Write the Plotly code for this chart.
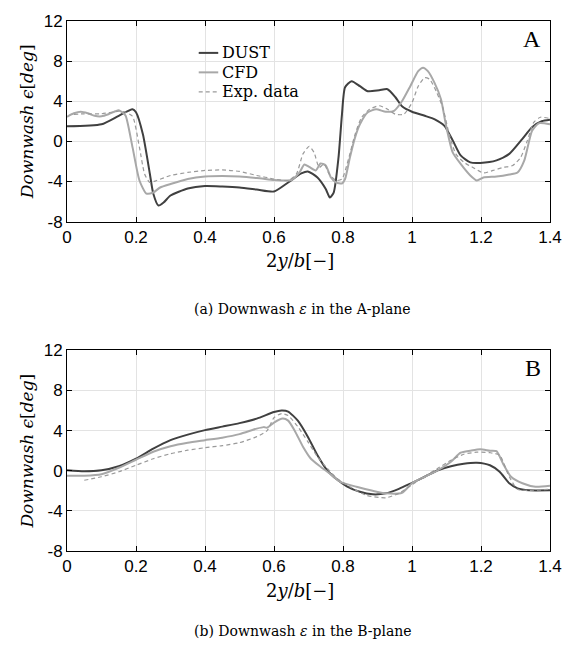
import plotly.graph_objects as go
from plotly.subplots import make_subplots

# ---------------- Data: A-plane ----------------
a_dust_x = [0, 0.1, 0.15, 0.19, 0.2, 0.22, 0.24, 0.25, 0.265, 0.28, 0.3, 0.35, 0.4, 0.45, 0.5, 0.55, 0.6,
            0.641, 0.679, 0.698, 0.726, 0.75, 0.762, 0.773, 0.787, 0.797, 0.806, 0.825, 0.849, 0.872,
            0.905, 0.929, 0.952, 0.971, 1.0, 1.037, 1.066, 1.094, 1.118, 1.141, 1.169, 1.198, 1.245,
            1.282, 1.32, 1.348, 1.376, 1.4]
a_dust_y = [1.5, 1.7, 2.55, 3.2, 2.9, 0.7, -3.2, -5.2, -6.4, -6.1, -5.4, -4.7, -4.45, -4.5, -4.6, -4.8, -5.0,
            -4.1, -3.2, -3.0, -3.6, -4.75, -5.6, -5.1, -1.6, 2.7, 5.4, 6.0, 5.5, 5.0,
            5.1, 5.2, 4.4, 3.5, 2.95, 2.55, 2.2, 1.55, 0.1, -1.4, -2.1, -2.15, -1.9,
            -1.25, 0.25, 1.4, 2.0, 2.15]

a_cfd_x = [0, 0.02, 0.04, 0.06, 0.08, 0.1, 0.12, 0.14, 0.15, 0.16, 0.17, 0.19, 0.21, 0.23, 0.25, 0.27, 0.3,
           0.35, 0.4, 0.45, 0.5, 0.55, 0.6, 0.622, 0.651, 0.674, 0.688, 0.702, 0.721, 0.735, 0.75, 0.765,
           0.78, 0.797, 0.806, 0.82, 0.835, 0.849, 0.872, 0.896, 0.924, 0.948, 0.971, 0.995, 1.018, 1.032,
           1.046, 1.065, 1.084, 1.098, 1.118, 1.141, 1.169, 1.188, 1.207, 1.245, 1.282, 1.306, 1.325,
           1.348, 1.367, 1.4]
a_cfd_y = [2.45, 2.8, 2.95, 2.8, 2.55, 2.5, 2.7, 3.0, 3.1, 2.9, 2.55, -0.6, -3.9, -5.2, -5.1, -4.6, -4.25,
           -3.75, -3.5, -3.45, -3.5, -3.65, -3.85, -3.9, -3.85, -3.1, -2.3, -2.55, -2.9, -2.2, -2.4, -3.6,
           -4.1, -4.2, -3.75, -1.6, 0.4, 1.7, 2.9, 3.2, 2.95, 3.05, 4.0, 5.5, 7.0, 7.35,
           7.0, 5.85, 4.2, 1.7, -1.1, -2.25, -3.4, -3.9, -3.6, -3.5, -3.3, -3.1, -1.95,
           1.05, 1.8, 1.7]

a_exp_x = [0.02, 0.05, 0.1, 0.15, 0.17, 0.19, 0.21, 0.225, 0.24, 0.26, 0.3, 0.35, 0.4, 0.45, 0.5, 0.55, 0.6,
           0.641, 0.665, 0.684, 0.702, 0.716, 0.731, 0.745, 0.76, 0.78, 0.797, 0.816, 0.835, 0.854, 0.877,
           0.905, 0.929, 0.952, 0.976, 1.0, 1.018, 1.037, 1.051, 1.07, 1.089, 1.108, 1.127, 1.151, 1.179,
           1.207, 1.235, 1.264, 1.292, 1.315, 1.334, 1.353, 1.372, 1.396]
a_exp_y = [2.7, 2.75, 2.75, 3.0, 2.9, 2.5, -0.6, -3.25, -4.1, -3.9, -3.4, -3.1, -2.9, -2.85, -3.0, -3.4, -3.75,
           -3.9, -3.25, -1.25, -0.5, -1.1, -2.6, -2.25, -3.25, -3.9, -3.75, -1.75, 0.7, 2.4, 3.2,
           3.55, 3.2, 2.7, 2.7, 3.85, 5.5, 6.35, 6.2, 5.0, 3.4, 0.7, -1.25, -2.1, -2.65,
           -3.15, -2.9, -2.6, -2.4, -1.6, 0.05, 1.9, 2.4, 2.3]

# ---------------- Data: B-plane ----------------
b_dust_x = [0, 0.05, 0.1, 0.15, 0.2, 0.25, 0.3, 0.35, 0.4, 0.45, 0.5, 0.55, 0.6, 0.622, 0.641, 0.669, 0.698,
            0.726, 0.754, 0.782, 0.811, 0.849, 0.886, 0.924, 0.962, 1.0, 1.037, 1.075, 1.113, 1.15, 1.188,
            1.226, 1.254, 1.282, 1.306, 1.339, 1.4]
b_dust_y = [0.05, -0.05, 0.05, 0.45, 1.2, 2.2, 3.05, 3.6, 4.05, 4.4, 4.75, 5.2, 5.85, 6.0, 5.9, 5.0, 3.4,
            1.55, 0.05, -0.85, -1.55, -2.1, -2.35, -2.25, -1.8, -1.2, -0.6, 0.05, 0.45, 0.7, 0.8,
            0.55, -0.1, -1.25, -1.75, -1.95, -1.95]

b_cfd_x = [0, 0.05, 0.1, 0.15, 0.2, 0.25, 0.3, 0.35, 0.4, 0.45, 0.5, 0.55, 0.57, 0.58, 0.6, 0.625, 0.641, 0.66,
           0.684, 0.707, 0.735, 0.764, 0.792, 0.839, 0.886, 0.924, 0.971, 1.0, 1.037, 1.075, 1.113, 1.141,
           1.169, 1.198, 1.226, 1.245, 1.264, 1.287, 1.32, 1.358, 1.4]
b_cfd_y = [-0.5, -0.5, -0.35, 0.3, 1.1, 1.9, 2.45, 2.8, 3.05, 3.3, 3.65, 4.2, 4.35, 4.3, 4.8, 5.2, 5.0, 4.0,
           2.4, 1.2, 0.4, -0.35, -1.1, -1.6, -2.0, -2.25, -2.2, -1.25, -0.6, 0.05, 0.9, 1.8,
           2.0, 2.15, 2.0, 1.95, 0.7, -0.6, -1.25, -1.6, -1.5]

b_exp_x = [0.05, 0.1, 0.15, 0.2, 0.25, 0.3, 0.35, 0.4, 0.45, 0.5, 0.55, 0.58, 0.6, 0.622, 0.641, 0.669, 0.698,
           0.726, 0.754, 0.782, 0.82, 0.868, 0.924, 0.962, 1.0, 1.037, 1.075, 1.113, 1.15, 1.188, 1.226,
           1.254, 1.282, 1.306, 1.339, 1.4]
b_exp_y = [-0.95, -0.6, -0.1, 0.55, 1.2, 1.7, 2.05, 2.3, 2.5, 2.8, 3.4, 4.0, 5.3, 5.7, 5.5, 4.4, 2.9,
           1.4, 0.25, -0.75, -1.6, -2.45, -2.7, -2.25, -1.4, -0.55, 0.25, 1.05, 1.65, 1.85, 1.8,
           1.55, -0.6, -1.85, -1.95, -1.85]

x_ticks = [0, 0.2, 0.4, 0.6, 0.8, 1.0, 1.2, 1.4]
x_tick_labels = ["0", "0.2", "0.4", "0.6", "0.8", "1", "1.2", "1.4"]
y_ticks = [-8, -4, 0, 4, 8, 12]
y_tick_labels = ["-8", "-4", "0", "4", "8", "12"]
series_names = ["DUST", "CFD", "Exp. data"]
panel_labels = ["A", "B"]
captions = ["(a) Downwash <i>ε</i> in the A-plane", "(b) Downwash <i>ε</i> in the B-plane"]

DARK = "#404040"
LIGHT = "#a8a8a8"
EXP = "#9a9a9a"
SERIF = "DejaVu Serif, Liberation Serif, serif"
SANS = "Liberation Sans, Arial, sans-serif"

styles = [
    dict(color=DARK, width=2, dash="solid"),
    dict(color=LIGHT, width=2, dash="solid"),
    dict(color=EXP, width=1.2, dash="4px,3px"),
]

fig = make_subplots(rows=2, cols=1, vertical_spacing=0.2430)

panels = [
    ((a_dust_x, a_dust_y), (a_cfd_x, a_cfd_y), (a_exp_x, a_exp_y)),
    ((b_dust_x, b_dust_y), (b_cfd_x, b_cfd_y), (b_exp_x, b_exp_y)),
]
for i, series in enumerate(panels):
    for (xs, ys), name, st in zip(series, series_names, styles):
        fig.add_trace(go.Scatter(x=xs, y=ys, mode="lines", name=name, showlegend=False,
                                 line=dict(shape="spline", smoothing=0.6, **st)), row=i + 1, col=1)

axis_common = dict(showline=True, linecolor="black", linewidth=1, mirror="ticks", ticks="inside",
                   ticklen=5, tickcolor="black", showgrid=True, gridcolor="#e3e3e3", gridwidth=1,
                   zeroline=False, tickfont=dict(family=SANS, size=17, color="black"))

for row in (1, 2):
    fig.update_xaxes(range=[0, 1.4], tickvals=x_ticks, ticktext=x_tick_labels,
                     row=row, col=1, **axis_common)
    fig.update_yaxes(range=[-8, 12], tickvals=y_ticks, ticktext=y_tick_labels,
                     title=dict(text="<i>Downwash ϵ</i>[<i>deg</i>]",
                                font=dict(family=SERIF, size=17, color="black"), standoff=5),
                     row=row, col=1, **axis_common)

fig.update_yaxes(domain=[0.6215, 1.0], row=1, col=1)
fig.update_yaxes(domain=[0.0, 0.3785], row=2, col=1)

# x-axis titles
for xr, yr in (("x domain", "y domain"), ("x2 domain", "y2 domain")):
    fig.add_annotation(text="2<i>y</i>/<i>b</i>[−]", x=0.483, y=-0.195, xref=xr, yref=yr,
                       xanchor="center", yanchor="middle", showarrow=False,
                       font=dict(family=SERIF, size=18, color="black"))

# panel letters
for i, lab in enumerate(panel_labels):
    fig.add_annotation(text=lab, x=1.381, y=10.2, xref=f"x{'' if i == 0 else 2}", yref=f"y{'' if i == 0 else 2}",
                       xanchor="right", yanchor="middle", showarrow=False,
                       font=dict(family="Liberation Serif, serif", size=24, color="black"))

# captions
for cap, yy in zip(captions, [0.4557, -0.1507]):
    fig.add_annotation(text=cap, x=0.488, y=yy, xref="paper", yref="paper", xanchor="center", yanchor="middle",
                       showarrow=False, font=dict(family=SERIF, size=14, color="black"))

# legend (top panel)
leg_y = [0.841, 0.744, 0.647]
for name, st, ly in zip(series_names, styles, leg_y):
    fig.add_shape(type="line", xref="x domain", yref="y domain", x0=0.2727, x1=0.3131, y0=ly, y1=ly,
                  line=dict(color=st["color"], width=st["width"], dash=st["dash"]))
    fig.add_annotation(text=name, xref="x domain", yref="y domain", x=0.317, y=ly, xanchor="left",
                       yanchor="middle", showarrow=False, font=dict(family=SERIF, size=16, color="black"))

fig.update_layout(
    width=574, height=648,
    margin=dict(l=67, r=12, t=20, b=97),
    paper_bgcolor="white", plot_bgcolor="white",
    showlegend=False,
)

fig.write_html("out.html")
